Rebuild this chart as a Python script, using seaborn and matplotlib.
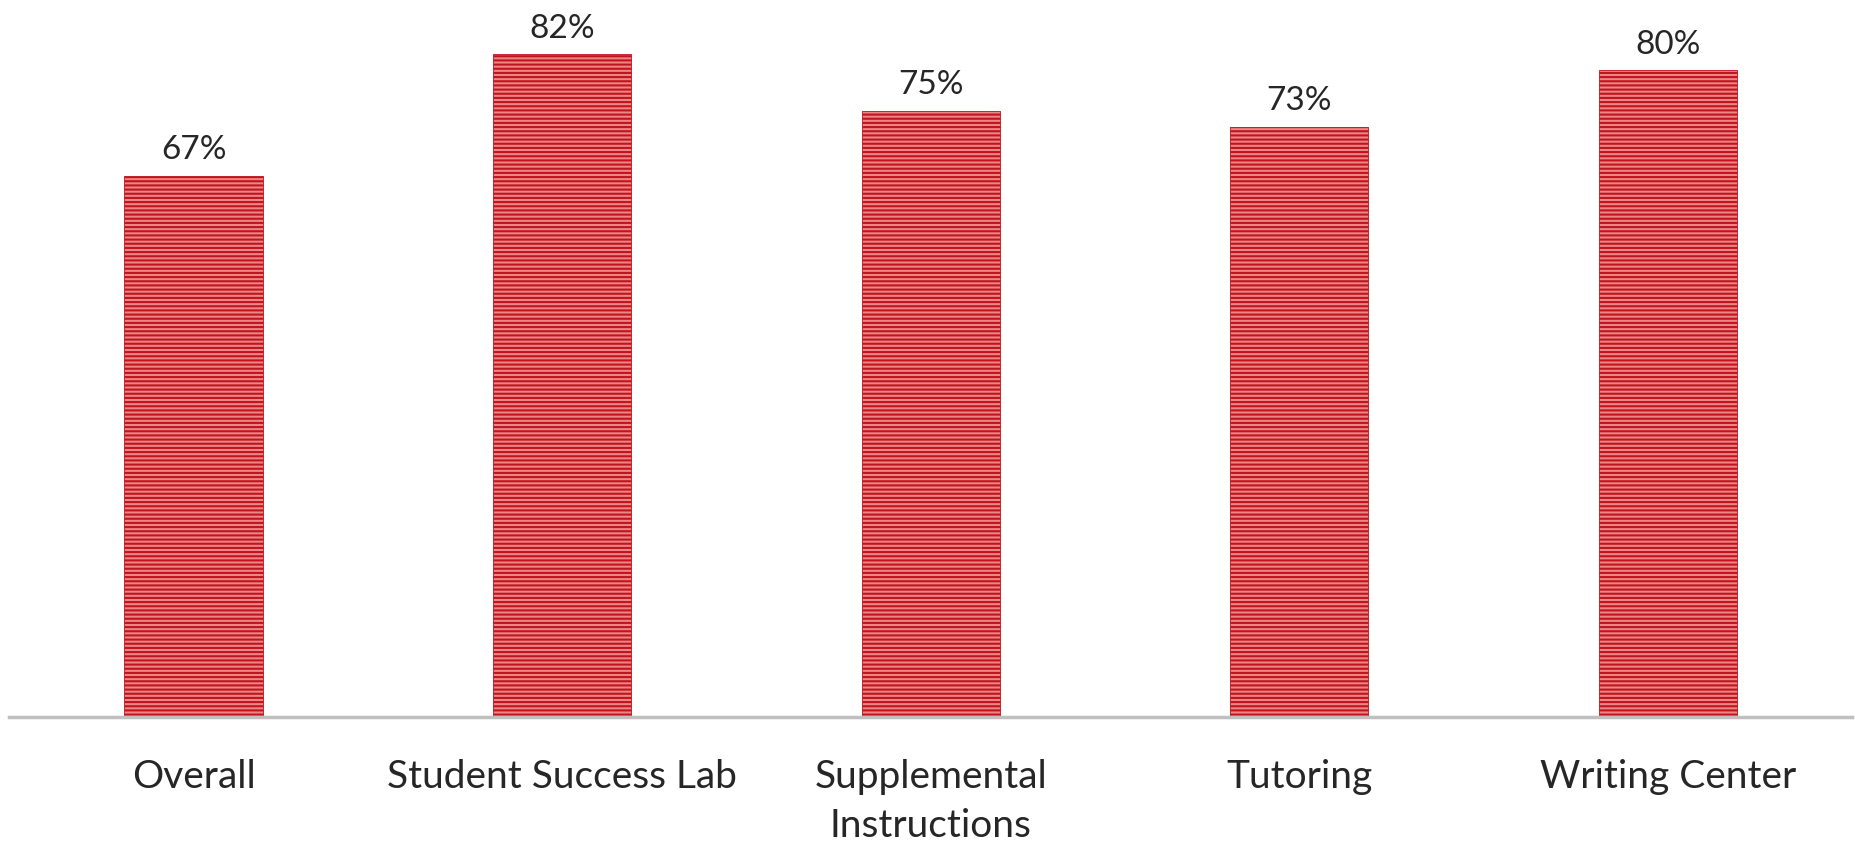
import matplotlib
matplotlib.use("Agg")
import matplotlib.pyplot as plt
import seaborn as sns
import pandas as pd

categories = ["Overall", "Student Success Lab", "Supplemental\nInstructions", "Tutoring", "Writing Center"]
rates = [0.67, 0.82, 0.75, 0.73, 0.80]

df = pd.DataFrame({"program": categories, "rate": rates})

sns.set_style("white")
plt.rcParams['font.family'] = ['Lato', 'DejaVu Sans']
plt.rcParams['hatch.color'] = '#c0141e'
plt.rcParams['hatch.linewidth'] = 1.5

fig = plt.figure(figsize=(18.56, 8.44), dpi=100)
ax = fig.add_axes([0.005, 0.150, 0.993, 0.85])

sns.barplot(data=df, x="program", y="rate", color="#ec8585", width=0.375,
            saturation=1, ax=ax)
for bar in ax.patches:
    bar.set_hatch("----")
    bar.set_edgecolor("#c0141e")
    bar.set_linewidth(0.6)

for i, v in enumerate(rates):
    ax.text(i, v + 0.013, f"{v:.0%}", ha="center", va="bottom", fontsize=24)

ax.set_xlim(-0.5, 4.5)
ax.set_ylim(0, 0.887)
ax.set_xlabel("")
ax.set_ylabel("")
ax.set_yticks([])
ax.tick_params(axis="x", length=0, labelsize=28, pad=30)
for lbl in ax.get_xticklabels():
    lbl.set_linespacing(1.45)
for s in ["top", "left", "right"]:
    ax.spines[s].set_visible(False)
ax.spines["bottom"].set_color("#bfbfbf")
ax.spines["bottom"].set_linewidth(2.5)

fig.savefig("out.png", dpi=100)
